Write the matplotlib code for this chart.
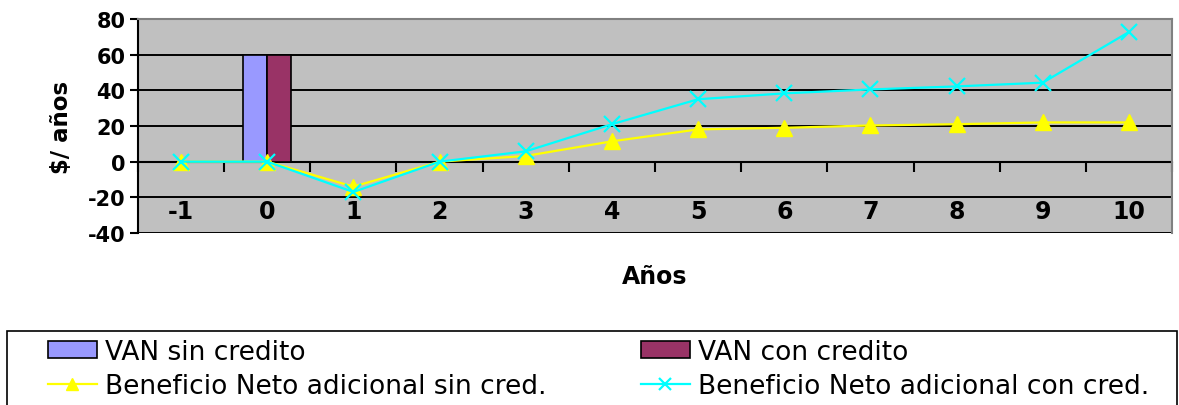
import matplotlib
matplotlib.use("Agg")
import matplotlib.pyplot as plt
from matplotlib.patches import Rectangle
import numpy as np

plt.rcParams["axes.unicode_minus"] = False

# Years of the project horizon
years = ["-1", "0", "1", "2", "3", "4", "5", "6", "7", "8", "9", "10"]

# Net present value (bars at year 0)
van_sin_credito = 60
van_con_credito = 60
van_year = "0"

# Additional net benefit per year
beneficio_sin_cred = [0, 0, -14, 0, 3.2, 11.4, 18.1, 19, 20.3, 21, 22, 22]
beneficio_con_cred = [0, 0, -17, 0, 5.8, 21, 35, 38.3, 40.5, 42.2, 44.3, 72.7]

W, H = 1179, 406
fig = plt.figure(figsize=(W / 100, H / 100), dpi=100)
fig.patch.set_facecolor("white")

ax = fig.add_axes([138 / W, 1 - 234 / H, (1172 - 138) / W, (234 - 20) / H])
ax.set_facecolor("#C0C0C0")

x = np.arange(len(years))
ax.set_xlim(-0.5, len(years) - 0.5)
ax.set_ylim(-40, 80)

# horizontal gridlines
for yv in range(-40, 80, 20):
    ax.axhline(yv, color="black", lw=1.4, zorder=1)

# bars for the NPV values
bw = 0.28
xi = years.index(van_year)
b1 = ax.bar(xi - bw / 2, van_sin_credito, width=bw, color="#9999FF",
            edgecolor="black", linewidth=1.2, zorder=2)
b2 = ax.bar(xi + bw / 2, van_con_credito, width=bw, color="#993366",
            edgecolor="black", linewidth=1.2, zorder=2)

# lines for the additional net benefit
l1, = ax.plot(x, beneficio_sin_cred, color="#FFFF00", lw=1.6, marker="^",
              ms=11, mec="#FFFF00", zorder=3)
l2, = ax.plot(x, beneficio_con_cred, color="#00FFFF", lw=1.6, marker="x",
              ms=11, mew=1.6, zorder=4)

# spines
for s in ["top", "right"]:
    ax.spines[s].set_color("#808080")
    ax.spines[s].set_linewidth(1.5)
ax.spines["left"].set_color("black")
ax.spines["left"].set_linewidth(1.5)
ax.spines["bottom"].set_position(("data", 0))
ax.spines["bottom"].set_color("black")
ax.spines["bottom"].set_linewidth(1.5)
ax.spines["bottom"].set_zorder(1.5)

# y axis
ax.set_yticks(range(-40, 81, 20))
ax.tick_params(axis="y", direction="out", length=6, width=1.5, pad=3,
               labelsize=15)
for t in ax.get_yticklabels():
    t.set_fontweight("bold")

# x axis: tick marks between categories, labels at category centres
ax.set_xticks(np.arange(-0.5, len(years) - 0.4, 1.0))
ax.set_xticklabels([])
ax.tick_params(axis="x", which="major", direction="out", length=7,
               width=1.5)
ax.set_xticks(x, minor=True)
ax.set_xticklabels(years, minor=True, fontsize=17, fontweight="bold")
ax.tick_params(axis="x", which="minor", length=0, pad=27)

ax.set_ylabel("$/ años", fontsize=16.5, fontweight="bold")
ax.yaxis.set_label_coords(-0.063, 0.5)
ax.set_xlabel("Años", fontsize=17, fontweight="bold")
ax.xaxis.set_label_coords(0.5, -0.145)
ax.xaxis.label.set_va("top")

# legend frame spanning the bottom of the figure
fig.patches.append(Rectangle((7 / W, -0.05), (1177 - 7) / W, 1 - 332 / H + 0.05,
                             transform=fig.transFigure, facecolor="white",
                             edgecolor="black", linewidth=1.2))

leg_kw = dict(frameon=False, fontsize=19, handlelength=1.85,
              handleheight=0.6, handletextpad=0.3, labelspacing=0.3,
              borderpad=0, borderaxespad=0, loc="upper left",
              markerscale=0.8)
fig.legend([b1, l1], ["VAN sin credito", "Beneficio Neto adicional sin cred."],
           bbox_to_anchor=(48 / W, 1 - 340 / H), **leg_kw)
fig.legend([b2, l2], ["VAN con credito", "Beneficio Neto adicional con cred."],
           bbox_to_anchor=(641 / W, 1 - 340 / H), **leg_kw)

fig.savefig("out.png", dpi=100)
